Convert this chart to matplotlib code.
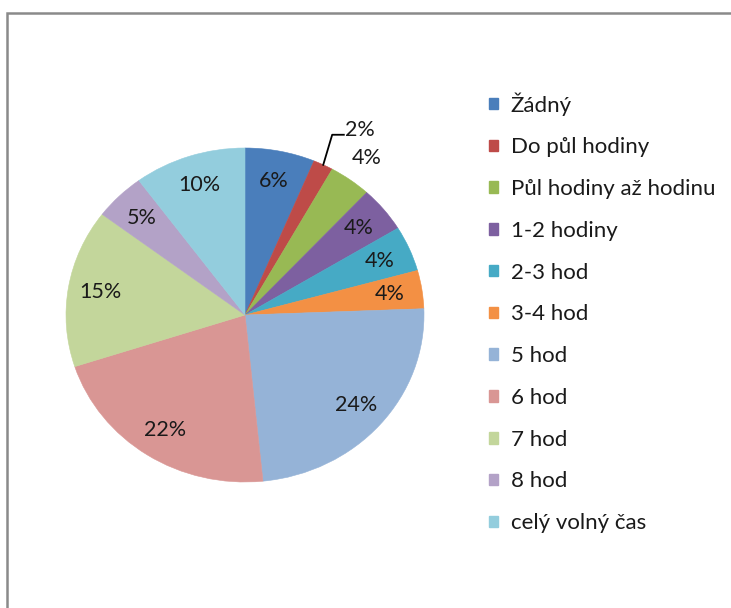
import numpy as np
import matplotlib.pyplot as plt
from matplotlib.patches import Patch, Rectangle

categories = ["Žádný", "Do půl hodiny", "Půl hodiny až hodinu", "1-2 hodiny",
              "2-3 hod", "3-4 hod", "5 hod", "6 hod", "7 hod", "8 hod",
              "celý volný čas"]
shares = [6.3, 1.8, 3.8, 4.4, 4.4, 3.7, 24.0, 21.6, 15.3, 4.6, 10.1]
colors = ["#4a7ebb", "#be4b48", "#98b954", "#7d60a0", "#46aac5", "#f39044",
          "#95b3d7", "#d99694", "#c3d69b", "#b3a2c7", "#93cddd"]

plt.rcParams["font.family"] = ["Lato", "DejaVu Sans"]

fig = plt.figure(figsize=(7.31, 6.08), dpi=100)
fig.patches.append(Rectangle((6.5 / 731, -0.1), 1.2, 1 - 12.5 / 608 + 0.1,
                             transform=fig.transFigure, fill=False,
                             edgecolor="#8a8a8a", linewidth=1.8))

ax = fig.add_axes([66 / 731, 126 / 608, 358 / 731, 334 / 608])
wedges, texts, autotexts = ax.pie(
    shares, colors=colors, startangle=90, counterclock=False,
    autopct="%.0f%%", pctdistance=0.82,
    wedgeprops=dict(linewidth=0.4, edgecolor="white"),
    textprops=dict(fontsize=15.5, color="#1a1a1a"))
ax.set_aspect("auto")
ax.set_xlim(-1, 1)
ax.set_ylim(-1, 1)

for w in wedges:
    w.set_edgecolor(w.get_facecolor())

# small slices: labels outside
mid = np.deg2rad((wedges[2].theta1 + wedges[2].theta2) / 2)
autotexts[2].set_position((1.16 * np.cos(mid), 1.16 * np.sin(mid)))

mid = np.deg2rad((wedges[1].theta1 + wedges[1].theta2) / 2)
x1, y1 = np.cos(mid), np.sin(mid)
x2, y2 = x1 + 0.05, 1.2 * y1
ax.plot([x1, x2, x2 + 0.065], [y1, y2, y2], color="black", lw=1.3, clip_on=False)
autotexts[1].set_position((x2 + 0.07, y2 + 0.03))
autotexts[1].set_ha("left")

handles = [Patch(facecolor=c, edgecolor=c) for c in colors]
fig.legend(handles, categories, loc="upper left", bbox_to_anchor=(489 / 731, 1 - 92 / 608),
           frameon=False, fontsize=16, handlelength=0.42, handleheight=0.42,
           handletextpad=0.55, labelspacing=0.98, labelcolor="#1a1a1a",
           borderpad=0, borderaxespad=0)

fig.savefig("out.png", dpi=100)
